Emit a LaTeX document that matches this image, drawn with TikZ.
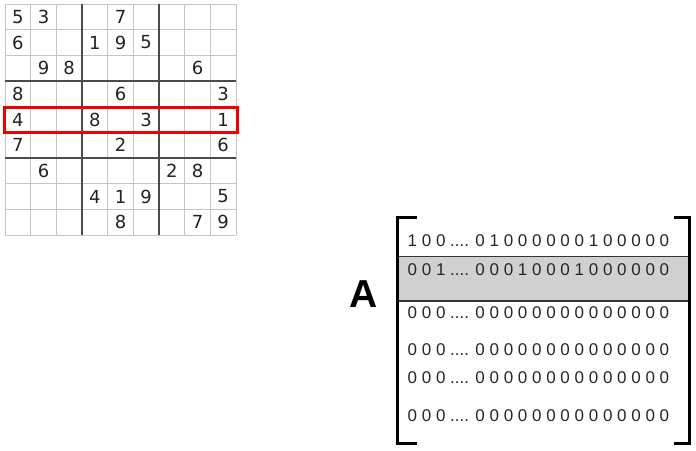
\documentclass[tikz,border=0pt]{standalone}
\usepackage{fontspec}
\setmainfont{Liberation Sans}
\newfontfamily\sudokufont{DejaVu Sans}
\definecolor{gridgray}{HTML}{C4C4C4}
\definecolor{blockgray}{HTML}{4A4A4A}
\definecolor{bandgray}{HTML}{D0D0D0}
\definecolor{digitgray}{HTML}{222222}
\definecolor{hired}{HTML}{F00000}
\begin{document}
\begin{tikzpicture}[x=1pt,y=-1pt,
  thinline/.style={draw=gridgray,line width=1pt},
  blockline/.style={draw=blockgray,line width=1.5pt},
  sdigit/.style={inner sep=0pt,text=digitgray,font=\sudokufont\fontsize{18}{20}\selectfont},
  rowtext/.style={inner sep=0pt,anchor=west,text=black!85,font=\fontsize{17}{19}\selectfont},
  bracket/.style={draw=black,line width=3pt},
  bandline/.style={draw=black!80,line width=1.3pt},
  highlight/.style={draw=hired,line width=3pt}]
\useasboundingbox (0,0) rectangle (696,450);
% sudoku grid
\def\cs{25.67}
\foreach \i in {0,...,9} {
  \draw[thinline] ({5+\i*\cs},4) -- ({5+\i*\cs},{4+9*\cs});
  \draw[thinline] (5,{4+\i*\cs}) -- ({5+9*\cs},{4+\i*\cs});
}
\foreach \i in {3,6} {
  \draw[blockline] ({5+\i*\cs},4) -- ({5+\i*\cs},{4+9*\cs});
  \draw[blockline] (5,{4+\i*\cs}) -- ({5+9*\cs},{4+\i*\cs});
}
\foreach \r/\c/\v in {1/1/5,1/2/3,1/5/7,
  2/1/6,2/4/1,2/5/9,2/6/5,
  3/2/9,3/3/8,3/8/6,
  4/1/8,4/5/6,4/9/3,
  5/1/4,5/4/8,5/6/3,5/9/1,
  6/1/7,6/5/2,6/9/6,
  7/2/6,7/7/2,7/8/8,
  8/4/4,8/5/1,8/6/9,8/9/5,
  9/5/8,9/8/7,9/9/9}
  \node[sdigit] (s\r\c) at ({5+(\c-0.5)*\cs},{4+(\r-0.5)*\cs}) {\v};
\draw[highlight] (4.5,107.5) rectangle (237.5,132.3);
% matrix
\fill[bandgray] (397,256.5) rectangle (689,301);
\draw[bandline] (397,256.5) -- (689,256.5);
\draw[bandline] (397,301) -- (689,301);
\draw[bracket] (417,217.7) -- (397,217.7) -- (397,443) -- (417,443);
\draw[bracket] (674,217.7) -- (689,217.7) -- (689,443) -- (674,443);
\node[inner sep=0pt,font=\bfseries\fontsize{39}{40}\selectfont] (A) at (363.7,294) {A};
\node[rowtext] (r1) at (407.5,241) {1 0 0 .... 0 1 0 0 0 0 0 0 1 0 0 0 0 0};
\node[rowtext] (r2) at (407.5,270) {0 0 1 .... 0 0 0 1 0 0 0 1 0 0 0 0 0 0};
\node[rowtext] (r3) at (407.5,312.5) {0 0 0 .... 0 0 0 0 0 0 0 0 0 0 0 0 0 0};
\node[rowtext] (r4) at (407.5,350) {0 0 0 .... 0 0 0 0 0 0 0 0 0 0 0 0 0 0};
\node[rowtext] (r5) at (407.5,378) {0 0 0 .... 0 0 0 0 0 0 0 0 0 0 0 0 0 0};
\node[rowtext] (r6) at (407.5,416) {0 0 0 .... 0 0 0 0 0 0 0 0 0 0 0 0 0 0};
\end{tikzpicture}
\end{document}
